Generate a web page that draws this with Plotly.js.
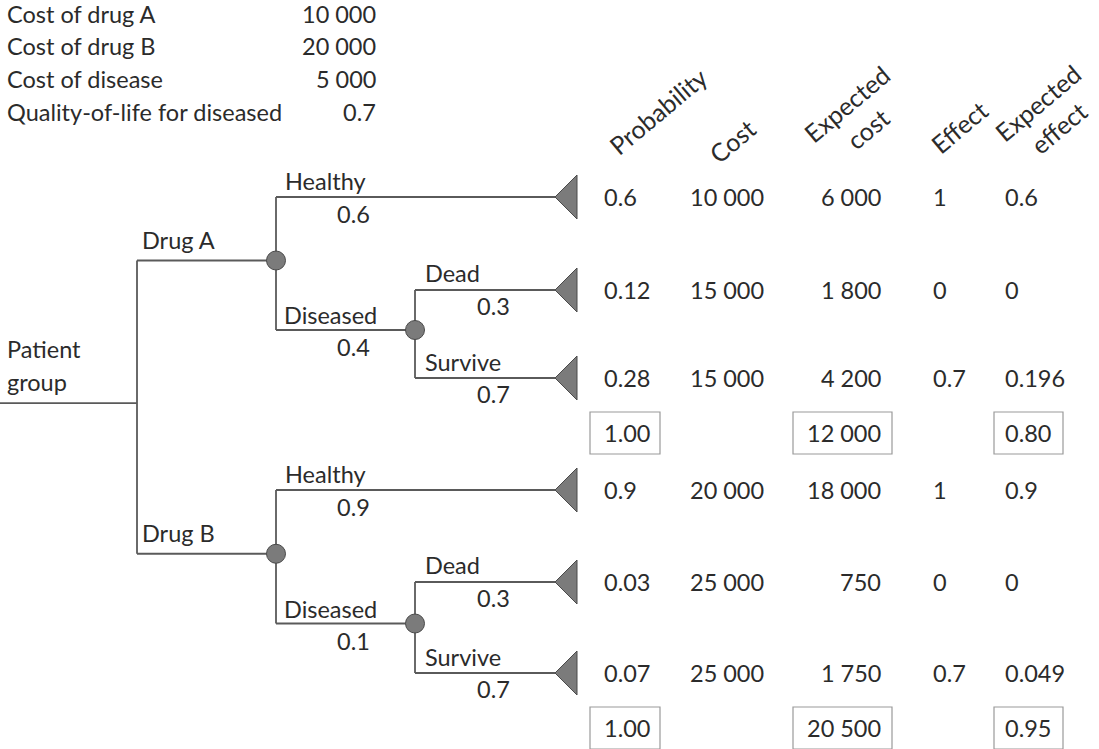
<!DOCTYPE html>
<html>
<head>
<meta charset="utf-8">
<script src="https://cdn.plot.ly/plotly-3.0.1.min.js"></script>
<style>html,body{margin:0;padding:0;background:#fff;}#chart{width:1099px;height:749px;}</style>
</head>
<body>
<div id="chart"></div>
<script>
// ---------- data ----------
const paramLabels = ['Cost of drug A', 'Cost of drug B', 'Cost of disease', 'Quality-of-life for diseased'];
const paramValues = ['10\u202f000', '20\u202f000', '5\u202f000', '0.7'];
const headers = ['Probability', 'Cost', 'Expected<br>cost', 'Effect', 'Expected<br>effect'];
const rootLabel = ['Patient', 'group'];
const drugs = ['Drug A', 'Drug B'];
const firstOutcomes = ['Healthy', 'Diseased'];
const secondOutcomes = ['Dead', 'Survive'];
const healthyProb = ['0.6', '0.9'];
const diseasedProb = ['0.4', '0.1'];
const deadProb = ['0.3', '0.3'];
const surviveProb = ['0.7', '0.7'];
const rowProb = ['0.6', '0.12', '0.28', '0.9', '0.03', '0.07'];
const rowCost = ['10\u202f000', '15\u202f000', '15\u202f000', '20\u202f000', '25\u202f000', '25\u202f000'];
const rowExpCost = ['6\u202f000', '1\u202f800', '4\u202f200', '18\u202f000', '750', '1\u202f750'];
const rowEffect = ['1', '0', '0.7', '1', '0', '0.7'];
const rowExpEffect = ['0.6', '0', '0.196', '0.9', '0', '0.049'];
const totalProb = ['1.00', '1.00'];
const totalExpCost = ['12\u202f000', '20\u202f500'];
const totalExpEffect = ['0.80', '0.95'];

// ---------- layout geometry (positions, not data) ----------
const L = {
  rowY: [197, 290, 378, 490, 582, 673],
  totalOffset: 55,
  rootX: 0, splitX: 137, node1X: 276, node2X: 415, tipX: 555, baseX: 577, triHalf: 22,
  colProbX: 602, colCostX: 688, colExpCostX: 883, colEffectX: 931, colExpEffectX: 1003,
  boxes: [[590, 660], [793, 892], [994, 1063]], boxHalf: 21,
  headerPos: [[658, 111], [732, 141], [857, 116], [959, 127], [1048, 115]],
  paramY: [14, 46, 79, 112], paramLabelX: 5, paramValueX: 378
};
const FONT = 'Lato, "Open Sans", sans-serif';
const TXT = '#2b2b2b';
const LINE = '#5a5a5a';
const FS = 23.5;

const annotations = [];
function txt(x, y, text, xanchor, extra) {
  annotations.push(Object.assign({
    x: x, y: y, xref: 'x', yref: 'y', text: text, showarrow: false,
    xanchor: xanchor || 'left', yanchor: 'middle',
    font: {family: FONT, size: FS, color: TXT}
  }, extra || {}));
}

// parameter table
paramLabels.forEach((t, i) => {
  txt(L.paramLabelX, L.paramY[i], t, 'left');
  txt(L.paramValueX, L.paramY[i], paramValues[i], 'right');
});

// headers
headers.forEach((h, i) => {
  txt(L.headerPos[i][0], L.headerPos[i][1], h, 'center',
      {textangle: -40, align: 'center', font: {family: FONT, size: 25, color: TXT}});
});

// tree lines
const lx = [], ly = [];
function seg(x0, y0, x1, y1) { lx.push(x0, x1, null); ly.push(y0, y1, null); }
const nodeX = [], nodeY = [];
const triX = [], triY = [];
const drugY = [];
drugs.forEach((d, g) => {
  const r0 = L.rowY[g * 3], r1 = L.rowY[g * 3 + 1], r2 = L.rowY[g * 3 + 2];
  const disY = (r1 + r2) / 2 - 4;
  const dY = (r0 + disY) / 2 - 3;
  drugY.push(dY);
  seg(L.splitX, dY, L.node1X, dY);
  seg(L.node1X, r0, L.node1X, disY);
  seg(L.node1X, r0, L.tipX, r0);
  seg(L.node1X, disY, L.node2X, disY);
  seg(L.node2X, r1, L.node2X, r2);
  seg(L.node2X, r1, L.tipX, r1);
  seg(L.node2X, r2, L.tipX, r2);
  nodeX.push(L.node1X, L.node2X); nodeY.push(dY, disY);
  [r0, r1, r2].forEach(r => {
    triX.push(L.tipX, L.baseX, L.baseX, L.tipX, null);
    triY.push(r, r - L.triHalf, r + L.triHalf, r, null);
  });
  txt(L.splitX + 3, dY - 21, d, 'left');
  txt(L.node1X + 7, r0 - 16, firstOutcomes[0], 'left');
  txt(L.node1X + 77, r0 + 17, healthyProb[g], 'center');
  txt(L.node1X + 6, disY - 15, firstOutcomes[1], 'left');
  txt(L.node1X + 77, disY + 17, diseasedProb[g], 'center');
  txt(L.node2X + 8, r1 - 17, secondOutcomes[0], 'left');
  txt(L.node2X + 78, r1 + 16, deadProb[g], 'center');
  txt(L.node2X + 8, r2 - 16, secondOutcomes[1], 'left');
  txt(L.node2X + 78, r2 + 16, surviveProb[g], 'center');
});
const rootY = (drugY[0] + drugY[1]) / 2 - 4;
seg(L.rootX, rootY, L.splitX, rootY);
seg(L.splitX, drugY[0], L.splitX, drugY[1]);
txt(5, rootY - 54, rootLabel[0], 'left');
txt(5, rootY - 21, rootLabel[1], 'left');

// table rows
rowProb.forEach((p, i) => {
  const y = L.rowY[i];
  txt(L.colProbX, y, p, 'left');
  txt(L.colCostX, y, rowCost[i], 'left');
  txt(L.colExpCostX, y, rowExpCost[i], 'right');
  txt(L.colEffectX, y, rowEffect[i], 'left');
  txt(L.colExpEffectX, y, rowExpEffect[i], 'left');
});

// totals with boxes
const shapes = [];
totalProb.forEach((t, g) => {
  const y = L.rowY[g * 3 + 2] + L.totalOffset;
  txt(L.colProbX, y, t, 'left');
  txt(L.colExpCostX, y, totalExpCost[g], 'right');
  txt(L.colExpEffectX, y, totalExpEffect[g], 'left');
  L.boxes.forEach(b => {
    shapes.push({type: 'rect', xref: 'x', yref: 'y', x0: b[0], x1: b[1],
      y0: y - L.boxHalf, y1: y + L.boxHalf, line: {color: '#9a9a9a', width: 1.2}, layer: 'below'});
  });
});

const traces = [
  {x: lx, y: ly, mode: 'lines', line: {color: LINE, width: 1.8}, hoverinfo: 'skip', type: 'scatter'},
  {x: triX, y: triY, mode: 'lines', fill: 'toself', fillcolor: '#7b7b7b',
   line: {color: '#4a4a4a', width: 1}, hoverinfo: 'skip', type: 'scatter'},
  {x: nodeX, y: nodeY, mode: 'markers', marker: {size: 19, color: '#7b7b7b', line: {color: '#4a4a4a', width: 1}},
   hoverinfo: 'skip', type: 'scatter'}
];

const layout = {
  width: 1099, height: 749,
  margin: {l: 0, r: 0, t: 0, b: 0},
  paper_bgcolor: '#fff', plot_bgcolor: '#fff',
  showlegend: false,
  xaxis: {range: [0, 1099], visible: false, fixedrange: true},
  yaxis: {range: [749, 0], visible: false, fixedrange: true},
  annotations: annotations,
  shapes: shapes
};
Plotly.newPlot('chart', traces, layout, {staticPlot: true, displayModeBar: false});
</script>
</body>
</html>
